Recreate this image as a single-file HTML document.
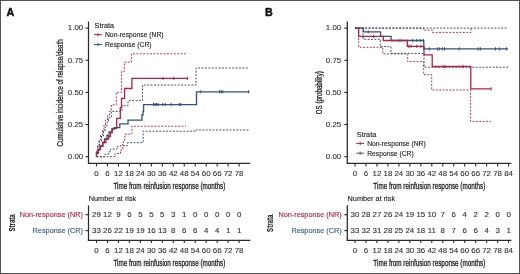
<!DOCTYPE html>
<html><head><meta charset="utf-8"><style>
html,body{margin:0;padding:0;background:#fff;}
body{width:520px;height:274px;overflow:hidden;position:relative;}
svg{position:absolute;left:0;top:0;display:block;will-change:transform;filter:blur(0.3px);font-family:"Liberation Sans",sans-serif;}
.frame{position:absolute;left:0;top:0;width:520px;height:274px;box-sizing:border-box;border:1px solid #555;}
</style></head><body>
<svg width="520" height="274" viewBox="0 0 520 274">
<rect x="0" y="0" width="520" height="274" fill="#fff"/>
<text x="6.6" y="15.7" font-size="10.7" font-weight="bold" fill="#111" stroke="#111" stroke-width="0.4">A</text>
<text x="264.9" y="15.9" font-size="10.7" font-weight="bold" fill="#111" stroke="#111" stroke-width="0.4">B</text>
<line x1="88.5" y1="21.5" x2="88.5" y2="164.0" stroke="#2a2a2a" stroke-width="1.25"/>
<line x1="87.9" y1="163.4" x2="250.3" y2="163.4" stroke="#2a2a2a" stroke-width="1.25"/>
<line x1="85.5" y1="28.10" x2="88.5" y2="28.10" stroke="#2a2a2a" stroke-width="1.1"/>
<text x="83.2" y="30.45" font-size="7.9" text-anchor="end" fill="#333333" stroke="#333333" stroke-width="0.12">1.00</text>
<line x1="85.5" y1="60.25" x2="88.5" y2="60.25" stroke="#2a2a2a" stroke-width="1.1"/>
<text x="83.2" y="62.60" font-size="7.9" text-anchor="end" fill="#333333" stroke="#333333" stroke-width="0.12">0.75</text>
<line x1="85.5" y1="92.40" x2="88.5" y2="92.40" stroke="#2a2a2a" stroke-width="1.1"/>
<text x="83.2" y="94.75" font-size="7.9" text-anchor="end" fill="#333333" stroke="#333333" stroke-width="0.12">0.50</text>
<line x1="85.5" y1="124.55" x2="88.5" y2="124.55" stroke="#2a2a2a" stroke-width="1.1"/>
<text x="83.2" y="126.90" font-size="7.9" text-anchor="end" fill="#333333" stroke="#333333" stroke-width="0.12">0.25</text>
<line x1="85.5" y1="156.70" x2="88.5" y2="156.70" stroke="#2a2a2a" stroke-width="1.1"/>
<text x="83.2" y="159.05" font-size="7.9" text-anchor="end" fill="#333333" stroke="#333333" stroke-width="0.12">0.00</text>
<line x1="96.50" y1="163.4" x2="96.50" y2="166.4" stroke="#2a2a2a" stroke-width="1.1"/>
<text x="96.50" y="175.8" font-size="7.9" text-anchor="middle" fill="#333333" stroke="#333333" stroke-width="0.12">0</text>
<line x1="107.47" y1="163.4" x2="107.47" y2="166.4" stroke="#2a2a2a" stroke-width="1.1"/>
<text x="107.47" y="175.8" font-size="7.9" text-anchor="middle" fill="#333333" stroke="#333333" stroke-width="0.12">6</text>
<line x1="118.44" y1="163.4" x2="118.44" y2="166.4" stroke="#2a2a2a" stroke-width="1.1"/>
<text x="118.44" y="175.8" font-size="7.9" text-anchor="middle" fill="#333333" stroke="#333333" stroke-width="0.12">12</text>
<line x1="129.41" y1="163.4" x2="129.41" y2="166.4" stroke="#2a2a2a" stroke-width="1.1"/>
<text x="129.41" y="175.8" font-size="7.9" text-anchor="middle" fill="#333333" stroke="#333333" stroke-width="0.12">18</text>
<line x1="140.38" y1="163.4" x2="140.38" y2="166.4" stroke="#2a2a2a" stroke-width="1.1"/>
<text x="140.38" y="175.8" font-size="7.9" text-anchor="middle" fill="#333333" stroke="#333333" stroke-width="0.12">24</text>
<line x1="151.35" y1="163.4" x2="151.35" y2="166.4" stroke="#2a2a2a" stroke-width="1.1"/>
<text x="151.35" y="175.8" font-size="7.9" text-anchor="middle" fill="#333333" stroke="#333333" stroke-width="0.12">30</text>
<line x1="162.32" y1="163.4" x2="162.32" y2="166.4" stroke="#2a2a2a" stroke-width="1.1"/>
<text x="162.32" y="175.8" font-size="7.9" text-anchor="middle" fill="#333333" stroke="#333333" stroke-width="0.12">36</text>
<line x1="173.29" y1="163.4" x2="173.29" y2="166.4" stroke="#2a2a2a" stroke-width="1.1"/>
<text x="173.29" y="175.8" font-size="7.9" text-anchor="middle" fill="#333333" stroke="#333333" stroke-width="0.12">42</text>
<line x1="184.26" y1="163.4" x2="184.26" y2="166.4" stroke="#2a2a2a" stroke-width="1.1"/>
<text x="184.26" y="175.8" font-size="7.9" text-anchor="middle" fill="#333333" stroke="#333333" stroke-width="0.12">48</text>
<line x1="195.23" y1="163.4" x2="195.23" y2="166.4" stroke="#2a2a2a" stroke-width="1.1"/>
<text x="195.23" y="175.8" font-size="7.9" text-anchor="middle" fill="#333333" stroke="#333333" stroke-width="0.12">54</text>
<line x1="206.20" y1="163.4" x2="206.20" y2="166.4" stroke="#2a2a2a" stroke-width="1.1"/>
<text x="206.20" y="175.8" font-size="7.9" text-anchor="middle" fill="#333333" stroke="#333333" stroke-width="0.12">60</text>
<line x1="217.17" y1="163.4" x2="217.17" y2="166.4" stroke="#2a2a2a" stroke-width="1.1"/>
<text x="217.17" y="175.8" font-size="7.9" text-anchor="middle" fill="#333333" stroke="#333333" stroke-width="0.12">66</text>
<line x1="228.14" y1="163.4" x2="228.14" y2="166.4" stroke="#2a2a2a" stroke-width="1.1"/>
<text x="228.14" y="175.8" font-size="7.9" text-anchor="middle" fill="#333333" stroke="#333333" stroke-width="0.12">72</text>
<line x1="239.11" y1="163.4" x2="239.11" y2="166.4" stroke="#2a2a2a" stroke-width="1.1"/>
<text x="239.11" y="175.8" font-size="7.9" text-anchor="middle" fill="#333333" stroke="#333333" stroke-width="0.12">78</text>
<text x="169.40" y="188.9" font-size="8.5" class="ttl" text-anchor="middle" fill="#1a1a1a" textLength="112" lengthAdjust="spacingAndGlyphs" stroke="#1a1a1a" stroke-width="0.26">Time from reinfusion response (months)</text>
<text transform="translate(63.2,92.85) rotate(-90)" x="0" y="0" font-size="8.9" class="ttl" text-anchor="middle" fill="#1a1a1a" textLength="107.3" lengthAdjust="spacingAndGlyphs" stroke="#1a1a1a" stroke-width="0.26">Cumulative incidence of relapse/death</text>
<path d="M96.50,156.70 L115.20,156.70 L115.20,153.50 L120.50,153.50 L120.50,150.00 L122.80,150.00 L122.80,144.00 L123.60,144.00 L123.60,140.00 L125.00,140.00 L125.00,134.10 L131.90,134.10 L131.90,126.20 L185.80,126.20" fill="none" stroke="#b42548" stroke-width="0.95" stroke-dasharray="1.9,1.5"/>
<path d="M96.50,156.70 L104.80,156.70 L104.80,154.40 L108.30,154.40 L108.30,151.80 L110.50,151.80 L110.50,149.10 L117.00,149.10 L117.00,146.30 L120.50,146.30 L120.50,145.60 L127.60,145.60 L127.60,142.70 L143.20,142.70 L143.20,131.20 L195.80,131.20 L195.80,130.00 L250.00,130.00" fill="none" stroke="#2c466b" stroke-width="0.95" stroke-dasharray="1.9,1.5"/>
<path d="M96.50,156.70 L96.50,150.00 L97.50,150.00 L97.50,145.00 L99.00,145.00 L99.00,140.00 L100.50,140.00 L100.50,135.00 L102.50,135.00 L102.50,130.00 L104.00,130.00 L104.00,125.00 L105.50,125.00 L105.50,120.00 L107.50,120.00 L107.50,115.50 L109.50,115.50 L109.50,111.20 L111.30,111.20 L111.30,104.90 L116.30,104.90 L116.30,92.30 L121.60,92.30 L121.60,71.40 L124.30,71.40 L124.30,62.20 L131.40,62.20 L131.40,53.80 L185.50,53.80" fill="none" stroke="#b42548" stroke-width="0.95" stroke-dasharray="1.9,1.5"/>
<path d="M96.50,156.70 L96.50,151.00 L98.00,151.00 L98.00,146.00 L99.50,146.00 L99.50,141.00 L101.50,141.00 L101.50,136.00 L103.50,136.00 L103.50,131.00 L105.00,131.00 L105.00,127.00 L107.00,127.00 L107.00,122.00 L108.50,122.00 L108.50,117.50 L111.30,117.50 L111.30,111.40 L122.00,111.40 L122.00,105.70 L128.00,105.70 L128.00,100.60 L142.50,100.60 L142.50,85.00 L196.00,85.00 L196.00,68.00 L248.30,68.00" fill="none" stroke="#2c466b" stroke-width="0.95" stroke-dasharray="1.9,1.5"/>
<path d="M96.50,156.70 L96.50,153.00 L98.00,153.00 L98.00,149.50 L100.00,149.50 L100.00,146.00 L102.50,146.00 L102.50,142.50 L104.50,142.50 L104.50,139.00 L107.00,139.00 L107.00,135.50 L109.00,135.50 L109.00,132.00 L112.00,132.00 L112.00,129.00 L114.50,129.00 L114.50,127.60 L119.80,127.60 L119.80,123.80 L128.00,123.80 L128.00,120.20 L142.00,120.20 L142.00,115.00 L143.00,115.00 L143.00,111.30 L143.60,111.30 L143.60,104.60 L196.50,104.60 L196.50,91.80 L249.30,91.80" fill="none" stroke="#31537f" stroke-width="1.3"/>
<path d="M96.50,156.70 L96.50,153.00 L98.50,153.00 L98.50,149.50 L100.50,149.50 L100.50,146.00 L103.00,146.00 L103.00,142.50 L106.00,142.50 L106.00,139.00 L108.70,139.00 L108.70,136.50 L110.50,136.50 L110.50,132.50 L112.20,132.50 L112.20,128.40 L116.70,128.40 L116.70,118.30 L120.30,118.30 L120.30,107.70 L121.50,107.70 L121.50,98.40 L124.60,98.40 L124.60,88.50 L131.90,88.50 L131.90,78.40 L187.60,78.40" fill="none" stroke="#b02242" stroke-width="1.3"/>
<line x1="163" y1="76.80000000000001" x2="163" y2="80.0" stroke="#b02242" stroke-width="1"/>
<line x1="173.8" y1="76.80000000000001" x2="173.8" y2="80.0" stroke="#b02242" stroke-width="1"/>
<line x1="187.6" y1="76.80000000000001" x2="187.6" y2="80.0" stroke="#b02242" stroke-width="1"/>
<line x1="153.5" y1="102.9" x2="153.5" y2="106.1" stroke="#31537f" stroke-width="1"/>
<line x1="155" y1="102.9" x2="155" y2="106.1" stroke="#31537f" stroke-width="1"/>
<line x1="156.5" y1="102.9" x2="156.5" y2="106.1" stroke="#31537f" stroke-width="1"/>
<line x1="158.2" y1="102.9" x2="158.2" y2="106.1" stroke="#31537f" stroke-width="1"/>
<line x1="162.7" y1="102.9" x2="162.7" y2="106.1" stroke="#31537f" stroke-width="1"/>
<line x1="165.2" y1="102.9" x2="165.2" y2="106.1" stroke="#31537f" stroke-width="1"/>
<line x1="171.2" y1="102.9" x2="171.2" y2="106.1" stroke="#31537f" stroke-width="1"/>
<line x1="179.2" y1="102.9" x2="179.2" y2="106.1" stroke="#31537f" stroke-width="1"/>
<line x1="180.8" y1="102.9" x2="180.8" y2="106.1" stroke="#31537f" stroke-width="1"/>
<line x1="200.3" y1="90.2" x2="200.3" y2="93.39999999999999" stroke="#31537f" stroke-width="1"/>
<line x1="219.6" y1="90.2" x2="219.6" y2="93.39999999999999" stroke="#31537f" stroke-width="1"/>
<line x1="221.2" y1="90.2" x2="221.2" y2="93.39999999999999" stroke="#31537f" stroke-width="1"/>
<line x1="222.8" y1="90.2" x2="222.8" y2="93.39999999999999" stroke="#31537f" stroke-width="1"/>
<line x1="248.6" y1="90.2" x2="248.6" y2="93.39999999999999" stroke="#31537f" stroke-width="1"/>
<text x="94.6" y="28.3" font-size="7.3" fill="#222" stroke="#222" stroke-width="0.12">Strata</text>
<line x1="94.0" y1="34.70" x2="102.0" y2="34.70" stroke="#b51d47" stroke-width="1.0"/>
<line x1="98.0" y1="33.10" x2="98.0" y2="36.30" stroke="#b51d47" stroke-width="1.0"/>
<text x="105.0" y="37.30" font-size="6.75" fill="#222" stroke="#222" stroke-width="0.12">Non-response (NR)</text>
<line x1="94.0" y1="44.50" x2="102.0" y2="44.50" stroke="#355a80" stroke-width="1.0"/>
<line x1="98.0" y1="42.90" x2="98.0" y2="46.10" stroke="#355a80" stroke-width="1.0"/>
<text x="105.0" y="47.10" font-size="6.75" fill="#222" stroke="#222" stroke-width="0.12">Response (CR)</text>
<text x="88.8" y="200.6" font-size="7.3" fill="#222" stroke="#222" stroke-width="0.12">Number at risk</text>
<line x1="88.5" y1="205.3" x2="88.5" y2="240.9" stroke="#2a2a2a" stroke-width="1.25"/>
<line x1="87.9" y1="240.3" x2="250.3" y2="240.3" stroke="#2a2a2a" stroke-width="1.25"/>
<line x1="85.5" y1="214.7" x2="88.5" y2="214.7" stroke="#2a2a2a" stroke-width="1.1"/>
<text x="82.9" y="217.30" font-size="7.3" text-anchor="end" fill="#b51d47" stroke="#b51d47" stroke-width="0.12">Non-response (NR)</text>
<text x="96.50" y="216.65" font-size="7.9" text-anchor="middle" fill="#333333" stroke="#333333" stroke-width="0.12">29</text>
<text x="107.47" y="216.65" font-size="7.9" text-anchor="middle" fill="#333333" stroke="#333333" stroke-width="0.12">12</text>
<text x="118.44" y="216.65" font-size="7.9" text-anchor="middle" fill="#333333" stroke="#333333" stroke-width="0.12">9</text>
<text x="129.41" y="216.65" font-size="7.9" text-anchor="middle" fill="#333333" stroke="#333333" stroke-width="0.12">6</text>
<text x="140.38" y="216.65" font-size="7.9" text-anchor="middle" fill="#333333" stroke="#333333" stroke-width="0.12">5</text>
<text x="151.35" y="216.65" font-size="7.9" text-anchor="middle" fill="#333333" stroke="#333333" stroke-width="0.12">5</text>
<text x="162.32" y="216.65" font-size="7.9" text-anchor="middle" fill="#333333" stroke="#333333" stroke-width="0.12">5</text>
<text x="173.29" y="216.65" font-size="7.9" text-anchor="middle" fill="#333333" stroke="#333333" stroke-width="0.12">3</text>
<text x="184.26" y="216.65" font-size="7.9" text-anchor="middle" fill="#333333" stroke="#333333" stroke-width="0.12">1</text>
<text x="195.23" y="216.65" font-size="7.9" text-anchor="middle" fill="#333333" stroke="#333333" stroke-width="0.12">0</text>
<text x="206.20" y="216.65" font-size="7.9" text-anchor="middle" fill="#333333" stroke="#333333" stroke-width="0.12">0</text>
<text x="217.17" y="216.65" font-size="7.9" text-anchor="middle" fill="#333333" stroke="#333333" stroke-width="0.12">0</text>
<text x="228.14" y="216.65" font-size="7.9" text-anchor="middle" fill="#333333" stroke="#333333" stroke-width="0.12">0</text>
<text x="239.11" y="216.65" font-size="7.9" text-anchor="middle" fill="#333333" stroke="#333333" stroke-width="0.12">0</text>
<line x1="85.5" y1="230.6" x2="88.5" y2="230.6" stroke="#2a2a2a" stroke-width="1.1"/>
<text x="82.9" y="233.20" font-size="7.3" text-anchor="end" fill="#355a80" stroke="#355a80" stroke-width="0.12">Response (CR)</text>
<text x="96.50" y="232.55" font-size="7.9" text-anchor="middle" fill="#333333" stroke="#333333" stroke-width="0.12">33</text>
<text x="107.47" y="232.55" font-size="7.9" text-anchor="middle" fill="#333333" stroke="#333333" stroke-width="0.12">26</text>
<text x="118.44" y="232.55" font-size="7.9" text-anchor="middle" fill="#333333" stroke="#333333" stroke-width="0.12">22</text>
<text x="129.41" y="232.55" font-size="7.9" text-anchor="middle" fill="#333333" stroke="#333333" stroke-width="0.12">19</text>
<text x="140.38" y="232.55" font-size="7.9" text-anchor="middle" fill="#333333" stroke="#333333" stroke-width="0.12">19</text>
<text x="151.35" y="232.55" font-size="7.9" text-anchor="middle" fill="#333333" stroke="#333333" stroke-width="0.12">16</text>
<text x="162.32" y="232.55" font-size="7.9" text-anchor="middle" fill="#333333" stroke="#333333" stroke-width="0.12">13</text>
<text x="173.29" y="232.55" font-size="7.9" text-anchor="middle" fill="#333333" stroke="#333333" stroke-width="0.12">8</text>
<text x="184.26" y="232.55" font-size="7.9" text-anchor="middle" fill="#333333" stroke="#333333" stroke-width="0.12">6</text>
<text x="195.23" y="232.55" font-size="7.9" text-anchor="middle" fill="#333333" stroke="#333333" stroke-width="0.12">6</text>
<text x="206.20" y="232.55" font-size="7.9" text-anchor="middle" fill="#333333" stroke="#333333" stroke-width="0.12">4</text>
<text x="217.17" y="232.55" font-size="7.9" text-anchor="middle" fill="#333333" stroke="#333333" stroke-width="0.12">4</text>
<text x="228.14" y="232.55" font-size="7.9" text-anchor="middle" fill="#333333" stroke="#333333" stroke-width="0.12">1</text>
<text x="239.11" y="232.55" font-size="7.9" text-anchor="middle" fill="#333333" stroke="#333333" stroke-width="0.12">1</text>
<line x1="96.50" y1="240.3" x2="96.50" y2="243.0" stroke="#2a2a2a" stroke-width="1.1"/>
<text x="96.50" y="252.7" font-size="7.9" text-anchor="middle" fill="#333333" stroke="#333333" stroke-width="0.12">0</text>
<line x1="107.47" y1="240.3" x2="107.47" y2="243.0" stroke="#2a2a2a" stroke-width="1.1"/>
<text x="107.47" y="252.7" font-size="7.9" text-anchor="middle" fill="#333333" stroke="#333333" stroke-width="0.12">6</text>
<line x1="118.44" y1="240.3" x2="118.44" y2="243.0" stroke="#2a2a2a" stroke-width="1.1"/>
<text x="118.44" y="252.7" font-size="7.9" text-anchor="middle" fill="#333333" stroke="#333333" stroke-width="0.12">12</text>
<line x1="129.41" y1="240.3" x2="129.41" y2="243.0" stroke="#2a2a2a" stroke-width="1.1"/>
<text x="129.41" y="252.7" font-size="7.9" text-anchor="middle" fill="#333333" stroke="#333333" stroke-width="0.12">18</text>
<line x1="140.38" y1="240.3" x2="140.38" y2="243.0" stroke="#2a2a2a" stroke-width="1.1"/>
<text x="140.38" y="252.7" font-size="7.9" text-anchor="middle" fill="#333333" stroke="#333333" stroke-width="0.12">24</text>
<line x1="151.35" y1="240.3" x2="151.35" y2="243.0" stroke="#2a2a2a" stroke-width="1.1"/>
<text x="151.35" y="252.7" font-size="7.9" text-anchor="middle" fill="#333333" stroke="#333333" stroke-width="0.12">30</text>
<line x1="162.32" y1="240.3" x2="162.32" y2="243.0" stroke="#2a2a2a" stroke-width="1.1"/>
<text x="162.32" y="252.7" font-size="7.9" text-anchor="middle" fill="#333333" stroke="#333333" stroke-width="0.12">36</text>
<line x1="173.29" y1="240.3" x2="173.29" y2="243.0" stroke="#2a2a2a" stroke-width="1.1"/>
<text x="173.29" y="252.7" font-size="7.9" text-anchor="middle" fill="#333333" stroke="#333333" stroke-width="0.12">42</text>
<line x1="184.26" y1="240.3" x2="184.26" y2="243.0" stroke="#2a2a2a" stroke-width="1.1"/>
<text x="184.26" y="252.7" font-size="7.9" text-anchor="middle" fill="#333333" stroke="#333333" stroke-width="0.12">48</text>
<line x1="195.23" y1="240.3" x2="195.23" y2="243.0" stroke="#2a2a2a" stroke-width="1.1"/>
<text x="195.23" y="252.7" font-size="7.9" text-anchor="middle" fill="#333333" stroke="#333333" stroke-width="0.12">54</text>
<line x1="206.20" y1="240.3" x2="206.20" y2="243.0" stroke="#2a2a2a" stroke-width="1.1"/>
<text x="206.20" y="252.7" font-size="7.9" text-anchor="middle" fill="#333333" stroke="#333333" stroke-width="0.12">60</text>
<line x1="217.17" y1="240.3" x2="217.17" y2="243.0" stroke="#2a2a2a" stroke-width="1.1"/>
<text x="217.17" y="252.7" font-size="7.9" text-anchor="middle" fill="#333333" stroke="#333333" stroke-width="0.12">66</text>
<line x1="228.14" y1="240.3" x2="228.14" y2="243.0" stroke="#2a2a2a" stroke-width="1.1"/>
<text x="228.14" y="252.7" font-size="7.9" text-anchor="middle" fill="#333333" stroke="#333333" stroke-width="0.12">72</text>
<line x1="239.11" y1="240.3" x2="239.11" y2="243.0" stroke="#2a2a2a" stroke-width="1.1"/>
<text x="239.11" y="252.7" font-size="7.9" text-anchor="middle" fill="#333333" stroke="#333333" stroke-width="0.12">78</text>
<text x="169.40" y="265.9" font-size="8.5" class="ttl" text-anchor="middle" fill="#1a1a1a" textLength="112" lengthAdjust="spacingAndGlyphs" stroke="#1a1a1a" stroke-width="0.26">Time from reinfusion response (months)</text>
<line x1="347.3" y1="21.5" x2="347.3" y2="164.0" stroke="#2a2a2a" stroke-width="1.25"/>
<line x1="346.7" y1="163.4" x2="511.4" y2="163.4" stroke="#2a2a2a" stroke-width="1.25"/>
<line x1="344.3" y1="28.10" x2="347.3" y2="28.10" stroke="#2a2a2a" stroke-width="1.1"/>
<text x="341.2" y="30.45" font-size="7.9" text-anchor="end" fill="#333333" stroke="#333333" stroke-width="0.12">1.00</text>
<line x1="344.3" y1="60.25" x2="347.3" y2="60.25" stroke="#2a2a2a" stroke-width="1.1"/>
<text x="341.2" y="62.60" font-size="7.9" text-anchor="end" fill="#333333" stroke="#333333" stroke-width="0.12">0.75</text>
<line x1="344.3" y1="92.40" x2="347.3" y2="92.40" stroke="#2a2a2a" stroke-width="1.1"/>
<text x="341.2" y="94.75" font-size="7.9" text-anchor="end" fill="#333333" stroke="#333333" stroke-width="0.12">0.50</text>
<line x1="344.3" y1="124.55" x2="347.3" y2="124.55" stroke="#2a2a2a" stroke-width="1.1"/>
<text x="341.2" y="126.90" font-size="7.9" text-anchor="end" fill="#333333" stroke="#333333" stroke-width="0.12">0.25</text>
<line x1="344.3" y1="156.70" x2="347.3" y2="156.70" stroke="#2a2a2a" stroke-width="1.1"/>
<text x="341.2" y="159.05" font-size="7.9" text-anchor="end" fill="#333333" stroke="#333333" stroke-width="0.12">0.00</text>
<line x1="355.00" y1="163.4" x2="355.00" y2="166.4" stroke="#2a2a2a" stroke-width="1.1"/>
<text x="355.00" y="175.8" font-size="7.9" text-anchor="middle" fill="#333333" stroke="#333333" stroke-width="0.12">0</text>
<line x1="365.97" y1="163.4" x2="365.97" y2="166.4" stroke="#2a2a2a" stroke-width="1.1"/>
<text x="365.97" y="175.8" font-size="7.9" text-anchor="middle" fill="#333333" stroke="#333333" stroke-width="0.12">6</text>
<line x1="376.94" y1="163.4" x2="376.94" y2="166.4" stroke="#2a2a2a" stroke-width="1.1"/>
<text x="376.94" y="175.8" font-size="7.9" text-anchor="middle" fill="#333333" stroke="#333333" stroke-width="0.12">12</text>
<line x1="387.91" y1="163.4" x2="387.91" y2="166.4" stroke="#2a2a2a" stroke-width="1.1"/>
<text x="387.91" y="175.8" font-size="7.9" text-anchor="middle" fill="#333333" stroke="#333333" stroke-width="0.12">18</text>
<line x1="398.88" y1="163.4" x2="398.88" y2="166.4" stroke="#2a2a2a" stroke-width="1.1"/>
<text x="398.88" y="175.8" font-size="7.9" text-anchor="middle" fill="#333333" stroke="#333333" stroke-width="0.12">24</text>
<line x1="409.85" y1="163.4" x2="409.85" y2="166.4" stroke="#2a2a2a" stroke-width="1.1"/>
<text x="409.85" y="175.8" font-size="7.9" text-anchor="middle" fill="#333333" stroke="#333333" stroke-width="0.12">30</text>
<line x1="420.82" y1="163.4" x2="420.82" y2="166.4" stroke="#2a2a2a" stroke-width="1.1"/>
<text x="420.82" y="175.8" font-size="7.9" text-anchor="middle" fill="#333333" stroke="#333333" stroke-width="0.12">36</text>
<line x1="431.79" y1="163.4" x2="431.79" y2="166.4" stroke="#2a2a2a" stroke-width="1.1"/>
<text x="431.79" y="175.8" font-size="7.9" text-anchor="middle" fill="#333333" stroke="#333333" stroke-width="0.12">42</text>
<line x1="442.76" y1="163.4" x2="442.76" y2="166.4" stroke="#2a2a2a" stroke-width="1.1"/>
<text x="442.76" y="175.8" font-size="7.9" text-anchor="middle" fill="#333333" stroke="#333333" stroke-width="0.12">48</text>
<line x1="453.73" y1="163.4" x2="453.73" y2="166.4" stroke="#2a2a2a" stroke-width="1.1"/>
<text x="453.73" y="175.8" font-size="7.9" text-anchor="middle" fill="#333333" stroke="#333333" stroke-width="0.12">54</text>
<line x1="464.70" y1="163.4" x2="464.70" y2="166.4" stroke="#2a2a2a" stroke-width="1.1"/>
<text x="464.70" y="175.8" font-size="7.9" text-anchor="middle" fill="#333333" stroke="#333333" stroke-width="0.12">60</text>
<line x1="475.67" y1="163.4" x2="475.67" y2="166.4" stroke="#2a2a2a" stroke-width="1.1"/>
<text x="475.67" y="175.8" font-size="7.9" text-anchor="middle" fill="#333333" stroke="#333333" stroke-width="0.12">66</text>
<line x1="486.64" y1="163.4" x2="486.64" y2="166.4" stroke="#2a2a2a" stroke-width="1.1"/>
<text x="486.64" y="175.8" font-size="7.9" text-anchor="middle" fill="#333333" stroke="#333333" stroke-width="0.12">72</text>
<line x1="497.61" y1="163.4" x2="497.61" y2="166.4" stroke="#2a2a2a" stroke-width="1.1"/>
<text x="497.61" y="175.8" font-size="7.9" text-anchor="middle" fill="#333333" stroke="#333333" stroke-width="0.12">78</text>
<line x1="508.58" y1="163.4" x2="508.58" y2="166.4" stroke="#2a2a2a" stroke-width="1.1"/>
<text x="508.58" y="175.8" font-size="7.9" text-anchor="middle" fill="#333333" stroke="#333333" stroke-width="0.12">84</text>
<text x="429.35" y="188.9" font-size="8.5" class="ttl" text-anchor="middle" fill="#1a1a1a" textLength="112" lengthAdjust="spacingAndGlyphs" stroke="#1a1a1a" stroke-width="0.26">Time from reinfusion response (months)</text>
<text transform="translate(321.9,92.7) rotate(-90)" x="0" y="0" font-size="8.9" class="ttl" text-anchor="middle" fill="#1a1a1a" textLength="43" lengthAdjust="spacingAndGlyphs" stroke="#1a1a1a" stroke-width="0.26">OS (probability)</text>
<path d="M355.00,28.10 L358.70,28.10 L358.70,47.30 L382.80,47.30 L382.80,53.90 L407.70,53.90 L407.70,61.60 L423.70,61.60 L423.70,74.70 L431.70,74.70 L431.70,90.00 L470.60,90.00 L470.60,121.40 L490.80,121.40" fill="none" stroke="#b42548" stroke-width="0.95" stroke-dasharray="1.9,1.5"/>
<path d="M355.00,28.10 L363.10,28.10 L363.10,39.30 L380.30,39.30 L380.30,46.60 L390.90,46.60 L390.90,53.40 L424.00,53.40 L424.00,67.20 L508.50,67.20" fill="none" stroke="#2c466b" stroke-width="0.95" stroke-dasharray="1.9,1.5"/>
<path d="M355.00,28.10 L423.60,28.10 L423.60,30.10 L432.30,30.10 L432.30,32.40 L471.00,32.40 L471.00,28.10" fill="none" stroke="#b42548" stroke-width="0.95" stroke-dasharray="1.9,1.5"/>
<path d="M355.00,28.10 L508.10,28.10" fill="none" stroke="#2c466b" stroke-width="0.95" stroke-dasharray="1.9,1.5"/>
<path d="M355.00,28.10 L363.30,28.10 L363.30,31.80 L380.60,31.80 L380.60,36.30 L391.10,36.30 L391.10,40.50 L423.80,40.50 L423.80,48.90 L508.00,48.90" fill="none" stroke="#31537f" stroke-width="1.3"/>
<path d="M355.00,28.10 L358.60,28.10 L358.60,36.40 L383.30,36.40 L383.30,40.50 L407.30,40.50 L407.30,46.30 L424.00,46.30 L424.00,54.90 L432.20,54.90 L432.20,66.50 L470.80,66.50 L470.80,88.80 L491.10,88.80" fill="none" stroke="#b02242" stroke-width="1.3"/>
<line x1="368.2" y1="30.2" x2="368.2" y2="33.4" stroke="#31537f" stroke-width="1"/>
<line x1="400" y1="38.9" x2="400" y2="42.1" stroke="#31537f" stroke-width="1"/>
<line x1="412.6" y1="38.9" x2="412.6" y2="42.1" stroke="#31537f" stroke-width="1"/>
<line x1="416.8" y1="38.9" x2="416.8" y2="42.1" stroke="#31537f" stroke-width="1"/>
<line x1="420.3" y1="38.9" x2="420.3" y2="42.1" stroke="#31537f" stroke-width="1"/>
<line x1="423.4" y1="38.9" x2="423.4" y2="42.1" stroke="#31537f" stroke-width="1"/>
<line x1="429.3" y1="47.3" x2="429.3" y2="50.5" stroke="#31537f" stroke-width="1"/>
<line x1="437.5" y1="47.3" x2="437.5" y2="50.5" stroke="#31537f" stroke-width="1"/>
<line x1="439.3" y1="47.3" x2="439.3" y2="50.5" stroke="#31537f" stroke-width="1"/>
<line x1="442.3" y1="47.3" x2="442.3" y2="50.5" stroke="#31537f" stroke-width="1"/>
<line x1="444.5" y1="47.3" x2="444.5" y2="50.5" stroke="#31537f" stroke-width="1"/>
<line x1="459.2" y1="47.3" x2="459.2" y2="50.5" stroke="#31537f" stroke-width="1"/>
<line x1="478.2" y1="47.3" x2="478.2" y2="50.5" stroke="#31537f" stroke-width="1"/>
<line x1="480.4" y1="47.3" x2="480.4" y2="50.5" stroke="#31537f" stroke-width="1"/>
<line x1="495.5" y1="47.3" x2="495.5" y2="50.5" stroke="#31537f" stroke-width="1"/>
<line x1="499.4" y1="47.3" x2="499.4" y2="50.5" stroke="#31537f" stroke-width="1"/>
<line x1="506.3" y1="47.3" x2="506.3" y2="50.5" stroke="#31537f" stroke-width="1"/>
<line x1="373.5" y1="34.8" x2="373.5" y2="38.0" stroke="#b02242" stroke-width="1"/>
<line x1="408.8" y1="44.699999999999996" x2="408.8" y2="47.9" stroke="#b02242" stroke-width="1"/>
<line x1="411" y1="44.699999999999996" x2="411" y2="47.9" stroke="#b02242" stroke-width="1"/>
<line x1="416.8" y1="44.699999999999996" x2="416.8" y2="47.9" stroke="#b02242" stroke-width="1"/>
<line x1="421" y1="44.699999999999996" x2="421" y2="47.9" stroke="#b02242" stroke-width="1"/>
<line x1="444.3" y1="64.9" x2="444.3" y2="68.1" stroke="#b02242" stroke-width="1"/>
<line x1="462.9" y1="64.9" x2="462.9" y2="68.1" stroke="#b02242" stroke-width="1"/>
<line x1="491.1" y1="87.2" x2="491.1" y2="90.39999999999999" stroke="#b02242" stroke-width="1"/>
<text x="356.8" y="137.0" font-size="7.3" fill="#222" stroke="#222" stroke-width="0.12">Strata</text>
<line x1="356.2" y1="143.40" x2="364.2" y2="143.40" stroke="#b51d47" stroke-width="1.0"/>
<line x1="360.2" y1="141.80" x2="360.2" y2="145.00" stroke="#b51d47" stroke-width="1.0"/>
<text x="367.2" y="146.00" font-size="6.75" fill="#222" stroke="#222" stroke-width="0.12">Non-response (NR)</text>
<line x1="356.2" y1="153.20" x2="364.2" y2="153.20" stroke="#355a80" stroke-width="1.0"/>
<line x1="360.2" y1="151.60" x2="360.2" y2="154.80" stroke="#355a80" stroke-width="1.0"/>
<text x="367.2" y="155.80" font-size="6.75" fill="#222" stroke="#222" stroke-width="0.12">Response (CR)</text>
<text x="347.6" y="200.6" font-size="7.3" fill="#222" stroke="#222" stroke-width="0.12">Number at risk</text>
<line x1="347.3" y1="205.3" x2="347.3" y2="240.9" stroke="#2a2a2a" stroke-width="1.25"/>
<line x1="346.7" y1="240.3" x2="511.4" y2="240.3" stroke="#2a2a2a" stroke-width="1.25"/>
<line x1="344.3" y1="214.7" x2="347.3" y2="214.7" stroke="#2a2a2a" stroke-width="1.1"/>
<text x="341.7" y="217.30" font-size="7.3" text-anchor="end" fill="#b51d47" stroke="#b51d47" stroke-width="0.12">Non-response (NR)</text>
<text x="355.00" y="216.65" font-size="7.9" text-anchor="middle" fill="#333333" stroke="#333333" stroke-width="0.12">30</text>
<text x="365.97" y="216.65" font-size="7.9" text-anchor="middle" fill="#333333" stroke="#333333" stroke-width="0.12">28</text>
<text x="376.94" y="216.65" font-size="7.9" text-anchor="middle" fill="#333333" stroke="#333333" stroke-width="0.12">27</text>
<text x="387.91" y="216.65" font-size="7.9" text-anchor="middle" fill="#333333" stroke="#333333" stroke-width="0.12">26</text>
<text x="398.88" y="216.65" font-size="7.9" text-anchor="middle" fill="#333333" stroke="#333333" stroke-width="0.12">24</text>
<text x="409.85" y="216.65" font-size="7.9" text-anchor="middle" fill="#333333" stroke="#333333" stroke-width="0.12">19</text>
<text x="420.82" y="216.65" font-size="7.9" text-anchor="middle" fill="#333333" stroke="#333333" stroke-width="0.12">15</text>
<text x="431.79" y="216.65" font-size="7.9" text-anchor="middle" fill="#333333" stroke="#333333" stroke-width="0.12">10</text>
<text x="442.76" y="216.65" font-size="7.9" text-anchor="middle" fill="#333333" stroke="#333333" stroke-width="0.12">7</text>
<text x="453.73" y="216.65" font-size="7.9" text-anchor="middle" fill="#333333" stroke="#333333" stroke-width="0.12">6</text>
<text x="464.70" y="216.65" font-size="7.9" text-anchor="middle" fill="#333333" stroke="#333333" stroke-width="0.12">4</text>
<text x="475.67" y="216.65" font-size="7.9" text-anchor="middle" fill="#333333" stroke="#333333" stroke-width="0.12">2</text>
<text x="486.64" y="216.65" font-size="7.9" text-anchor="middle" fill="#333333" stroke="#333333" stroke-width="0.12">2</text>
<text x="497.61" y="216.65" font-size="7.9" text-anchor="middle" fill="#333333" stroke="#333333" stroke-width="0.12">0</text>
<text x="508.58" y="216.65" font-size="7.9" text-anchor="middle" fill="#333333" stroke="#333333" stroke-width="0.12">0</text>
<line x1="344.3" y1="230.6" x2="347.3" y2="230.6" stroke="#2a2a2a" stroke-width="1.1"/>
<text x="341.7" y="233.20" font-size="7.3" text-anchor="end" fill="#355a80" stroke="#355a80" stroke-width="0.12">Response (CR)</text>
<text x="355.00" y="232.55" font-size="7.9" text-anchor="middle" fill="#333333" stroke="#333333" stroke-width="0.12">33</text>
<text x="365.97" y="232.55" font-size="7.9" text-anchor="middle" fill="#333333" stroke="#333333" stroke-width="0.12">32</text>
<text x="376.94" y="232.55" font-size="7.9" text-anchor="middle" fill="#333333" stroke="#333333" stroke-width="0.12">31</text>
<text x="387.91" y="232.55" font-size="7.9" text-anchor="middle" fill="#333333" stroke="#333333" stroke-width="0.12">28</text>
<text x="398.88" y="232.55" font-size="7.9" text-anchor="middle" fill="#333333" stroke="#333333" stroke-width="0.12">25</text>
<text x="409.85" y="232.55" font-size="7.9" text-anchor="middle" fill="#333333" stroke="#333333" stroke-width="0.12">24</text>
<text x="420.82" y="232.55" font-size="7.9" text-anchor="middle" fill="#333333" stroke="#333333" stroke-width="0.12">18</text>
<text x="431.79" y="232.55" font-size="7.9" text-anchor="middle" fill="#333333" stroke="#333333" stroke-width="0.12">11</text>
<text x="442.76" y="232.55" font-size="7.9" text-anchor="middle" fill="#333333" stroke="#333333" stroke-width="0.12">8</text>
<text x="453.73" y="232.55" font-size="7.9" text-anchor="middle" fill="#333333" stroke="#333333" stroke-width="0.12">7</text>
<text x="464.70" y="232.55" font-size="7.9" text-anchor="middle" fill="#333333" stroke="#333333" stroke-width="0.12">6</text>
<text x="475.67" y="232.55" font-size="7.9" text-anchor="middle" fill="#333333" stroke="#333333" stroke-width="0.12">6</text>
<text x="486.64" y="232.55" font-size="7.9" text-anchor="middle" fill="#333333" stroke="#333333" stroke-width="0.12">4</text>
<text x="497.61" y="232.55" font-size="7.9" text-anchor="middle" fill="#333333" stroke="#333333" stroke-width="0.12">3</text>
<text x="508.58" y="232.55" font-size="7.9" text-anchor="middle" fill="#333333" stroke="#333333" stroke-width="0.12">1</text>
<line x1="355.00" y1="240.3" x2="355.00" y2="243.0" stroke="#2a2a2a" stroke-width="1.1"/>
<text x="355.00" y="252.7" font-size="7.9" text-anchor="middle" fill="#333333" stroke="#333333" stroke-width="0.12">0</text>
<line x1="365.97" y1="240.3" x2="365.97" y2="243.0" stroke="#2a2a2a" stroke-width="1.1"/>
<text x="365.97" y="252.7" font-size="7.9" text-anchor="middle" fill="#333333" stroke="#333333" stroke-width="0.12">6</text>
<line x1="376.94" y1="240.3" x2="376.94" y2="243.0" stroke="#2a2a2a" stroke-width="1.1"/>
<text x="376.94" y="252.7" font-size="7.9" text-anchor="middle" fill="#333333" stroke="#333333" stroke-width="0.12">12</text>
<line x1="387.91" y1="240.3" x2="387.91" y2="243.0" stroke="#2a2a2a" stroke-width="1.1"/>
<text x="387.91" y="252.7" font-size="7.9" text-anchor="middle" fill="#333333" stroke="#333333" stroke-width="0.12">18</text>
<line x1="398.88" y1="240.3" x2="398.88" y2="243.0" stroke="#2a2a2a" stroke-width="1.1"/>
<text x="398.88" y="252.7" font-size="7.9" text-anchor="middle" fill="#333333" stroke="#333333" stroke-width="0.12">24</text>
<line x1="409.85" y1="240.3" x2="409.85" y2="243.0" stroke="#2a2a2a" stroke-width="1.1"/>
<text x="409.85" y="252.7" font-size="7.9" text-anchor="middle" fill="#333333" stroke="#333333" stroke-width="0.12">30</text>
<line x1="420.82" y1="240.3" x2="420.82" y2="243.0" stroke="#2a2a2a" stroke-width="1.1"/>
<text x="420.82" y="252.7" font-size="7.9" text-anchor="middle" fill="#333333" stroke="#333333" stroke-width="0.12">36</text>
<line x1="431.79" y1="240.3" x2="431.79" y2="243.0" stroke="#2a2a2a" stroke-width="1.1"/>
<text x="431.79" y="252.7" font-size="7.9" text-anchor="middle" fill="#333333" stroke="#333333" stroke-width="0.12">42</text>
<line x1="442.76" y1="240.3" x2="442.76" y2="243.0" stroke="#2a2a2a" stroke-width="1.1"/>
<text x="442.76" y="252.7" font-size="7.9" text-anchor="middle" fill="#333333" stroke="#333333" stroke-width="0.12">48</text>
<line x1="453.73" y1="240.3" x2="453.73" y2="243.0" stroke="#2a2a2a" stroke-width="1.1"/>
<text x="453.73" y="252.7" font-size="7.9" text-anchor="middle" fill="#333333" stroke="#333333" stroke-width="0.12">54</text>
<line x1="464.70" y1="240.3" x2="464.70" y2="243.0" stroke="#2a2a2a" stroke-width="1.1"/>
<text x="464.70" y="252.7" font-size="7.9" text-anchor="middle" fill="#333333" stroke="#333333" stroke-width="0.12">60</text>
<line x1="475.67" y1="240.3" x2="475.67" y2="243.0" stroke="#2a2a2a" stroke-width="1.1"/>
<text x="475.67" y="252.7" font-size="7.9" text-anchor="middle" fill="#333333" stroke="#333333" stroke-width="0.12">66</text>
<line x1="486.64" y1="240.3" x2="486.64" y2="243.0" stroke="#2a2a2a" stroke-width="1.1"/>
<text x="486.64" y="252.7" font-size="7.9" text-anchor="middle" fill="#333333" stroke="#333333" stroke-width="0.12">72</text>
<line x1="497.61" y1="240.3" x2="497.61" y2="243.0" stroke="#2a2a2a" stroke-width="1.1"/>
<text x="497.61" y="252.7" font-size="7.9" text-anchor="middle" fill="#333333" stroke="#333333" stroke-width="0.12">78</text>
<line x1="508.58" y1="240.3" x2="508.58" y2="243.0" stroke="#2a2a2a" stroke-width="1.1"/>
<text x="508.58" y="252.7" font-size="7.9" text-anchor="middle" fill="#333333" stroke="#333333" stroke-width="0.12">84</text>
<text x="429.35" y="265.9" font-size="8.5" class="ttl" text-anchor="middle" fill="#1a1a1a" textLength="112" lengthAdjust="spacingAndGlyphs" stroke="#1a1a1a" stroke-width="0.26">Time from reinfusion response (months)</text>
<text transform="translate(14.5,222.9) rotate(-90)" font-size="9.2" font-weight="bold" text-anchor="middle" fill="#1a1a1a" textLength="17.2" lengthAdjust="spacingAndGlyphs" stroke="#1a1a1a" stroke-width="0.12">Strata</text>
<text transform="translate(273.0,223.3) rotate(-90)" font-size="9.2" font-weight="bold" text-anchor="middle" fill="#1a1a1a" textLength="17.2" lengthAdjust="spacingAndGlyphs" stroke="#1a1a1a" stroke-width="0.12">Strata</text>
</svg>
<div class="frame"></div>
</body></html>
